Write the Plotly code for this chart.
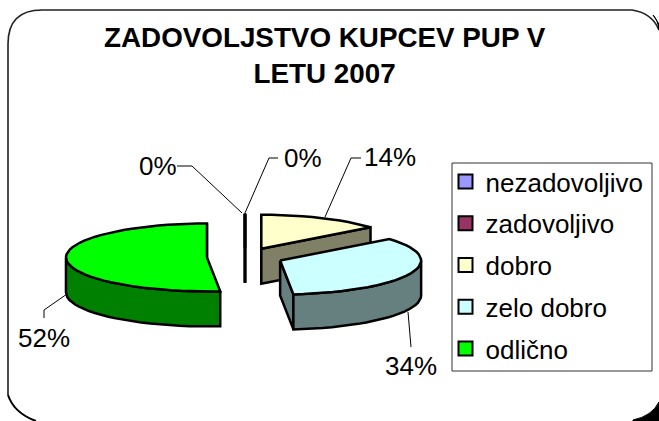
import numpy as np
import plotly.graph_objects as go

# ---- data ----
categories = ["nezadovoljivo", "zadovoljivo", "dobro", "zelo dobro", "odlično"]
values = [0, 0, 14.1, 34.4, 51.5]
percent_labels = ["0%", "0%", "14%", "34%", "52%"]
top_colors = ["#9999FF", "#993366", "#FFFFCC", "#CCFFFF", "#00FF00"]
title_lines = ["ZADOVOLJSTVO KUPCEV PUP V", "LETU 2007"]

# ---- pie projection (page pixels) ----
W, H = 659, 421
CX, CY, RX, RY, DEPTH, EXPLODE = 245, 257, 141, 34, 35, 0.27
LW = 2.5


def darker(hex_col):
    r, g, b = (int(hex_col[i:i + 2], 16) for i in (1, 3, 5))
    return f"rgb({round(r / 2)},{round(g / 2)},{round(b / 2)})"


def project(theta_deg, radius=1.0):
    t = np.radians(theta_deg)
    return radius * RX * np.sin(t), -radius * RY * np.cos(t)


fig = go.Figure()


def face(xs, ys, colour):
    fig.add_trace(go.Scatter(x=list(xs), y=list(ys), mode="lines", fill="toself", fillcolor=colour,
                             line=dict(color="black", width=LW, shape="linear"),
                             showlegend=False, hoverinfo="skip"))


total = sum(values)
start = 0.0
for val, col in zip(values, top_colors):
    sweep = 360.0 * val / total
    end = start + sweep
    mid = (start + end) / 2
    ex, ey = project(mid, EXPLODE)
    ax, ay = CX + ex, CY + ey
    side = darker(col)

    # radial cut faces, when they turn towards the viewer
    for edge, normal in ((start, start - 90), (end, end + 90)):
        if np.cos(np.radians(normal)) < 1e-9:
            dx, dy = project(edge)
            face([ax, ax + dx, ax + dx, ax, ax], [ay, ay + dy, ay + dy + DEPTH, ay + DEPTH, ay], side)

    # outer wall: the part of the rim on the front half
    lo, hi = max(start, 90.0), min(end, 270.0)
    if hi > lo:
        arc = np.linspace(lo, hi, max(2, int((hi - lo) / 4) + 1))
        dx, dy = project(arc)
        face(np.r_[ax + dx, (ax + dx)[::-1], ax + dx[0]],
             np.r_[ay + dy, (ay + dy + DEPTH)[::-1], ay + dy[0]], side)

    # top face
    arc = np.linspace(start, end, max(2, int(sweep / 4) + 1))
    dx, dy = project(arc)
    face(np.r_[ax, ax + dx, ax], np.r_[ay, ay + dy, ay], col)
    start = end

# legend entries
for i, (name, col) in enumerate(zip(categories, top_colors)):
    fig.add_trace(go.Scatter(x=[None], y=[None], mode="markers", name=name, legendgroup=name,
                             marker=dict(symbol="square", size=14, color=col,
                                         line=dict(color="black", width=2))))

FONT = "Liberation Sans, Arial, sans-serif"
shapes = [
    # rounded frame
    dict(type="path", path="M 8,395 L 8,44 Q 8,10 42,10 L 632,10 Q 652,13 659,30",
         line=dict(color="#202020", width=1.6)),
    dict(type="path", path="M 8,395 Q 14,413 36,421", line=dict(color="black", width=2)),
    dict(type="path", path="M 659,402 Q 652,416 633,420 L 633,421 L 659,421 Z",
         line=dict(color="black", width=1), fillcolor="black"),
    dict(type="path", path="M 653,15 Q 658,20 659,30 L 659,24 Z", line=dict(color="black", width=1), fillcolor="black"),
    # legend box
    dict(type="rect", x0=452, y0=163, x1=652, y1=371, line=dict(color="#303030", width=1), fillcolor="white", layer="below"),
]
# leader lines
leaders = [
    "M 177,166 L 192,166 L 242,213",
    "M 278,158 L 269,158 L 245,213",
    "M 361,158 L 351,158 L 325,217",
    "M 411,347 L 408,312",
    "M 44,318 L 44,310 L 67,294",
]
for p in leaders:
    shapes.append(dict(type="path", path=p, line=dict(color="black", width=1)))

label_pos = [(158, 166), (303, 158), (390, 157), (411, 366), (44, 338)]
annotations = [dict(x=x, y=y, text=t, showarrow=False, xanchor="center", yanchor="middle",
                    font=dict(family=FONT, size=26, color="black"))
               for (x, y), t in zip(label_pos, percent_labels)]
annotations.append(dict(x=325, y=55.5, text="<b>" + "<br>".join(title_lines) + "</b>", showarrow=False,
                        xanchor="center", yanchor="middle", align="center",
                        font=dict(family=FONT, size=27.8, color="black")))

fig.update_layout(
    width=W, height=H, margin=dict(l=0, r=0, t=0, b=0), autosize=False,
    paper_bgcolor="white", plot_bgcolor="white",
    xaxis=dict(range=[0, W], visible=False, fixedrange=True),
    yaxis=dict(range=[H, 0], visible=False, fixedrange=True),
    shapes=shapes, annotations=annotations,
    legend=dict(x=445.5 / W, y=1 - 158 / H, xanchor="left", yanchor="top", bgcolor="rgba(0,0,0,0)",
                borderwidth=0, tracegroupgap=5, font=dict(family=FONT, size=26, color="black")),
)
fig.write_html("out.html", post_script="document.body.style.margin='0';document.body.style.overflow='hidden';",
               config=dict(displayModeBar=False))
